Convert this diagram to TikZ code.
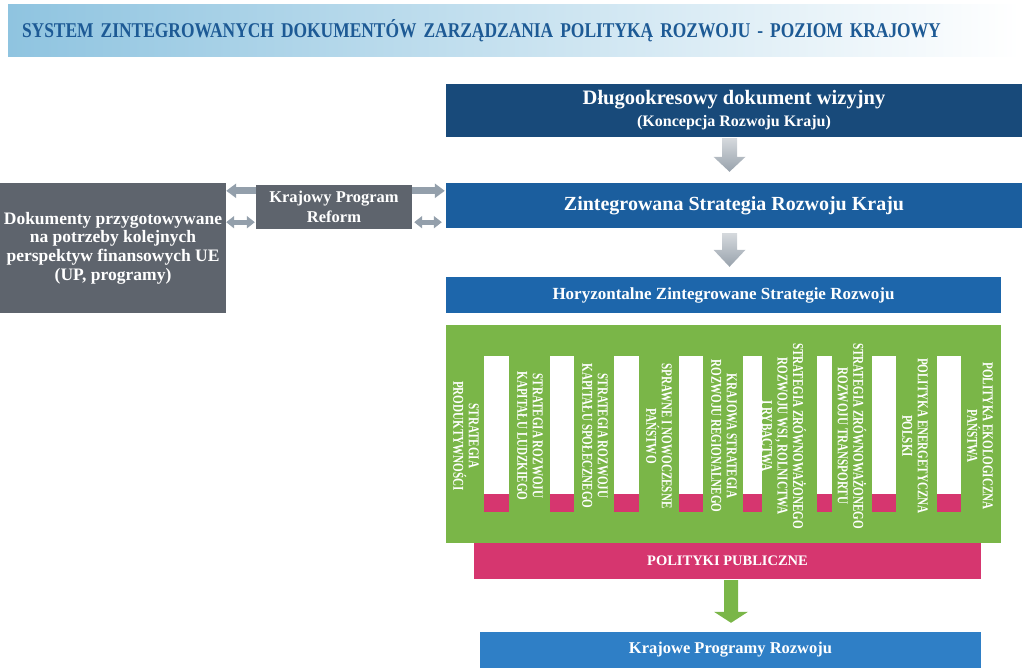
\documentclass[tikz,border=0pt]{standalone}
\usepackage{fontspec}
\setmainfont{Liberation Serif}
\newfontfamily\narrowfont[FakeStretch=0.74]{Liberation Serif}
\newfontfamily\titlefont[FakeStretch=0.83]{Liberation Serif}
\usetikzlibrary{arrows.meta,calc}
\definecolor{titleblue}{HTML}{8FC4E0}
\definecolor{titletext}{HTML}{1D5A95}
\definecolor{navy}{HTML}{184A7A}
\definecolor{zsblue}{HTML}{1B5E9E}
\definecolor{hzblue}{HTML}{1D66AB}
\definecolor{kpblue}{HTML}{2F7FC6}
\definecolor{greenc}{HTML}{7AB648}
\definecolor{pinkc}{HTML}{D6366F}
\definecolor{slate}{HTML}{5E646D}
\definecolor{arrowgray}{HTML}{939FAB}
\definecolor{arrowlight}{HTML}{D5D9DD}
\definecolor{arrowdark}{HTML}{98A2AC}

\begin{document}
\begin{tikzpicture}[x=1pt,y=-1pt,
  box/.style={fill=#1,text=white,inner sep=0pt,align=center},
  vtext/.style={text=white,rotate=-90,align=center,inner sep=0pt,
    font=\narrowfont\bfseries\fontsize{15}{15.5}\selectfont},
  sidearrow/.style={draw=arrowgray,line width=#1}]
\useasboundingbox (0,0) rectangle (1024,668);
\def \bartop {356}
\def \barmid {494}
\def \barbot {512}

% title
\node[left color=titleblue,right color=white,text=titletext,
  minimum width=1012,minimum height=52,text width=984,align=left,
  inner xsep=14,inner ysep=0,font=\titlefont\bfseries\fontsize{21}{24}\selectfont]
  (title) at (514,31) {SYSTEM ZINTEGROWANYCH DOKUMENTÓW ZARZĄDZANIA POLITYKĄ ROZWOJU - POZIOM KRAJOWY};

% main column
\node[box=navy,minimum width=576,minimum height=53,font=\bfseries\fontsize{20.5}{22}\selectfont]
  (dlugo) at (734,110.5) {Długookresowy dokument wizyjny\\{\fontsize{16}{22}\selectfont(Koncepcja Rozwoju Kraju)}};
\node[box=zsblue,minimum width=576,minimum height=45,font=\bfseries\fontsize{20}{24}\selectfont]
  (zsrk) at (734,205.5) {Zintegrowana Strategia Rozwoju Kraju};
\node[box=hzblue,minimum width=555,minimum height=36,font=\bfseries\fontsize{17}{20}\selectfont]
  (hzsr) at (723.5,295) {Horyzontalne Zintegrowane Strategie Rozwoju};
\node[box=greenc,minimum width=555,minimum height=218] (green) at (723.5,434) {};
\node[box=pinkc,minimum width=507,minimum height=36,font=\bfseries\fontsize{14.5}{17}\selectfont]
  (pp) at (727.5,561) {POLITYKI PUBLICZNE};
\node[box=kpblue,minimum width=501,minimum height=36,font=\bfseries\fontsize{16.5}{19}\selectfont]
  (krp) at (730.5,650) {Krajowe Programy Rozwoju};

% left side
\node[box=slate,minimum width=226,minimum height=130,font=\bfseries\fontsize{17.5}{18.7}\selectfont]
  (dok) at (113,248) {Dokumenty przygotowywane\\na potrzeby kolejnych\\perspektyw finansowych UE\\(UP, programy)};
\node[box=slate,minimum width=156,minimum height=44,font=\bfseries\fontsize{16.5}{19.5}\selectfont]
  (kpr) at (334,207) {Krajowy Program\\Reform};

% bars in the green block
\foreach \xa/\xb in {484/509,550/574,614/639,679/703,743/762,817/832,872/896,937/961}
  {\fill[white] (\xa,\bartop) rectangle (\xb,\barmid);
   \fill[pinkc] (\xa,\barmid) rectangle (\xb,\barbot);}
\foreach \x/\t [count=\i] in {466/{STRATEGIA\\PRODUKTYWNOŚCI},
    530/{STRATEGIA ROZWOJU\\KAPITAŁU LUDZKIEGO},
    595/{STRATEGIA ROZWOJU\\KAPITAŁU SPOŁECZNEGO},
    659/{SPRAWNE I NOWOCZESNE\\PAŃSTWO},
    724/{KRAJOWA STRATEGIA\\ROZWOJU REGIONALNEGO},
    784/{STRATEGIA ZRÓWNOWAŻONEGO\\ROZWOJU WSI, ROLNICTWA\\I RYBACTWA},
    852/{STRATEGIA ZRÓWNOWAŻONEGO\\ROZWOJU TRANSPORTU},
    915/{POLITYKA ENERGETYCZNA\\POLSKI},
    980/{POLITYKA EKOLOGICZNA\\PAŃSTWA}}
  {\node[vtext] (str\i) at (\x,436) {\t};}

% block arrows
\coordinate (axis) at (729.5,0);
\coordinate (gaxis) at (731,0);
\shade[top color=arrowlight,bottom color=arrowdark]
  ($(dlugo.south -| axis)+(-7.5,1)$) -- ($(zsrk.north -| axis)+(-7.5,-26)$)
  -- ($(zsrk.north -| axis)+(-16,-26)$) -- ($(zsrk.north -| axis)+(0,-11)$)
  -- ($(zsrk.north -| axis)+(16,-26)$) -- ($(zsrk.north -| axis)+(7.5,-26)$)
  -- ($(dlugo.south -| axis)+(7.5,1)$) -- cycle;
\shade[top color=arrowlight,bottom color=arrowdark]
  ($(zsrk.south -| axis)+(-7.5,5)$) -- ($(hzsr.north -| axis)+(-7.5,-27)$)
  -- ($(hzsr.north -| axis)+(-16,-27)$) -- ($(hzsr.north -| axis)+(0,-10)$)
  -- ($(hzsr.north -| axis)+(16,-27)$) -- ($(hzsr.north -| axis)+(7.5,-27)$)
  -- ($(zsrk.south -| axis)+(7.5,5)$) -- cycle;
\fill[greenc]
  ($(pp.south -| gaxis)+(-7,1)$) -- ($(krp.north -| gaxis)+(-7,-20)$)
  -- ($(krp.north -| gaxis)+(-17,-20)$) -- ($(krp.north -| gaxis)+(0,-9)$)
  -- ($(krp.north -| gaxis)+(17,-20)$) -- ($(krp.north -| gaxis)+(7,-20)$)
  -- ($(pp.south -| gaxis)+(7,1)$) -- cycle;

% side arrows
\draw[sidearrow=7pt,-{Triangle[width=14pt,length=10pt]}]
  ([yshift=-6pt]kpr.north west) -- ([yshift=-6pt]kpr.north west -| dok.east);
\draw[sidearrow=5pt,{Triangle[width=12pt,length=8pt]}-{Triangle[width=12pt,length=8pt]},shorten <=1pt]
  ([yshift=7pt]kpr.south west) -- ([yshift=7pt]kpr.south west -| dok.east);
\draw[sidearrow=7pt,-{Triangle[width=14pt,length=10pt]},shorten >=1pt]
  ([yshift=-6pt]kpr.north east) -- ([yshift=-6pt]kpr.north east -| zsrk.west);
\draw[sidearrow=5pt,{Triangle[width=12pt,length=8pt]}-{Triangle[width=12pt,length=8pt]},shorten <=2pt,shorten >=4pt]
  ([yshift=7pt]kpr.south east) -- ([yshift=7pt]kpr.south east -| zsrk.west);
\end{tikzpicture}
\end{document}
